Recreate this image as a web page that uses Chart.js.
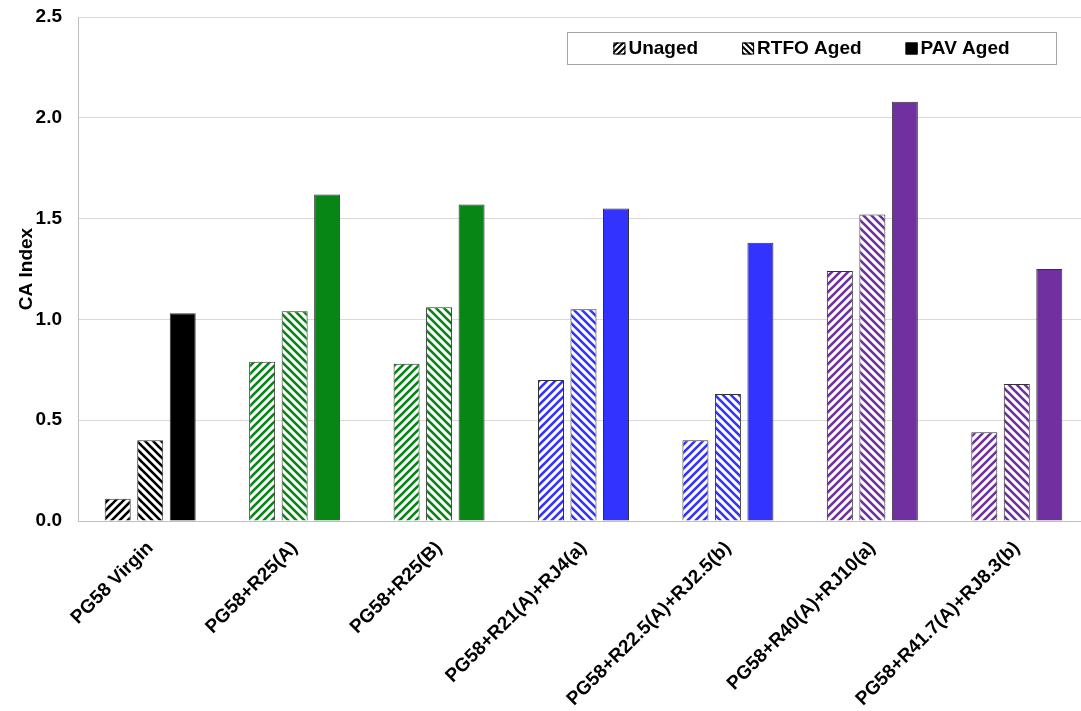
<!DOCTYPE html>
<html>
<head>
<meta charset="utf-8">
<script src="https://cdn.jsdelivr.net/npm/chart.js@4/dist/chart.umd.min.js"></script>
<style>
  html, body { margin: 0; padding: 0; background: #fff; overflow: hidden; }
  #wrap { width: 1089px; height: 711px; }
</style>
</head>
<body>
<div id="wrap"><canvas id="chart" width="1089" height="711"></canvas></div>
<script>
// data
const categories = [
  "PG58 Virgin",
  "PG58+R25(A)",
  "PG58+R25(B)",
  "PG58+R21(A)+RJ4(a)",
  "PG58+R22.5(A)+RJ2.5(b)",
  "PG58+R40(A)+RJ10(a)",
  "PG58+R41.7(A)+RJ8.3(b)"
];
const seriesNames = ["Unaged", "RTFO Aged", "PAV Aged"];
const unaged = [0.11, 0.79, 0.78, 0.70, 0.40, 1.24, 0.44];
const rtfoAged = [0.40, 1.04, 1.06, 1.05, 0.63, 1.52, 0.68];
const pavAged = [1.03, 1.62, 1.57, 1.55, 1.38, 2.08, 1.25];
const yTicks = [0, 0.5, 1.0, 1.5, 2.0, 2.5];

// colour of each group of bars
const groupColors = ["#000000", "#078515", "#078515", "#3333ff", "#3333ff", "#7030a0", "#7030a0"];
const FONT = "'Liberation Sans', Arial, sans-serif";
const FSIZE = 19;

// diagonal stripes, "/" or "\"
function hatch(color, dir, size) {
  const s = size || 8;
  const c = document.createElement("canvas");
  c.width = c.height = s;
  const g = c.getContext("2d");
  g.fillStyle = "#fff";
  g.fillRect(0, 0, s, s);
  g.strokeStyle = color;
  g.lineWidth = s * 0.33;
  g.beginPath();
  if (dir === "/") {
    g.moveTo(0, s); g.lineTo(s, 0);
    g.moveTo(-1, 1); g.lineTo(1, -1);
    g.moveTo(s - 1, s + 1); g.lineTo(s + 1, s - 1);
  } else {
    g.moveTo(0, 0); g.lineTo(s, s);
    g.moveTo(-1, s - 1); g.lineTo(1, s + 1);
    g.moveTo(s - 1, -1); g.lineTo(s + 1, 1);
  }
  g.stroke();
  return g.createPattern(c, "repeat");
}

const swatchStyles = [hatch("#000", "/", 6), hatch("#000", "\\", 6), "#000"];

// legend in a box at top right of the plot
const legendBox = {
  id: "legendBox",
  afterDraw(chart) {
    const ctx = chart.ctx;
    const area = chart.chartArea;
    const boxRight = area.right - 33, boxTop = area.top + 15, boxH = 32, boxW = 489;
    const boxLeft = boxRight - boxW;
    ctx.save();
    ctx.fillStyle = "#fff";
    ctx.fillRect(boxLeft, boxTop, boxW, boxH);
    ctx.strokeStyle = "#a6a6a6";
    ctx.lineWidth = 1;
    ctx.strokeRect(boxLeft + 0.5, boxTop + 0.5, boxW, boxH);
    ctx.font = "bold " + FSIZE + "px " + FONT;
    ctx.textBaseline = "middle";
    const sw = 12, gapText = 3, gapItem = 44;
    const widths = chart.data.datasets.map(d => sw + gapText + ctx.measureText(d.label).width);
    const total = widths.reduce((a, b) => a + b, 0) + gapItem * (widths.length - 1);
    let x = boxLeft + (boxW - total) / 2;
    const cy = boxTop + boxH / 2 + 0.5;
    chart.data.datasets.forEach((d, i) => {
      ctx.fillStyle = swatchStyles[i];
      ctx.fillRect(x, cy - sw / 2, sw, sw);
      ctx.strokeStyle = "#000";
      ctx.strokeRect(x + 0.5, cy - sw / 2 + 0.5, sw - 1, sw - 1);
      ctx.fillStyle = "#000";
      ctx.fillText(d.label, x + sw + gapText, cy);
      x += widths[i] + gapItem;
    });
    ctx.restore();
  }
};

const common = { borderColor: "#333", borderWidth: 1, barPercentage: 0.8, categoryPercentage: 0.675 };

new Chart(document.getElementById("chart"), {
  type: "bar",
  data: {
    labels: categories,
    datasets: [
      Object.assign({ label: seriesNames[0], data: unaged, backgroundColor: groupColors.map(c => hatch(c, "/")) }, common),
      Object.assign({ label: seriesNames[1], data: rtfoAged, backgroundColor: groupColors.map(c => hatch(c, "\\")) }, common),
      Object.assign({ label: seriesNames[2], data: pavAged, backgroundColor: groupColors }, common)
    ]
  },
  options: {
    responsive: false,
    animation: false,
    devicePixelRatio: 1,
    layout: { padding: { top: 17, right: 0, left: 0, bottom: 0 } },
    plugins: { legend: { display: false }, tooltip: { enabled: false } },
    scales: {
      x: {
        grid: { display: false },
        border: { color: "#bfbfbf" },
        ticks: {
          color: "#000",
          font: { family: FONT, size: FSIZE, weight: "bold" },
          minRotation: 45,
          maxRotation: 45,
          autoSkip: false,
          padding: 8
        },
        afterFit(s) { s.height = 190; s.paddingLeft = 0; s.paddingRight = 0; }
      },
      y: {
        min: 0,
        max: 2.5,
        afterBuildTicks(s) { s.ticks = yTicks.map(v => ({ value: v })); },
        grid: { color: "#d9d9d9", drawTicks: false },
        border: { color: "#bfbfbf" },
        ticks: {
          color: "#000",
          font: { family: FONT, size: FSIZE, weight: "bold" },
          padding: 16,
          callback: v => v.toFixed(1)
        },
        title: {
          display: true,
          text: "CA Index",
          color: "#000",
          font: { family: FONT, size: FSIZE, weight: "bold" },
          padding: { top: 15, bottom: 0 }
        },
        afterFit(s) { s.width = 78; s.paddingTop = 0; s.paddingBottom = 0; }
      }
    }
  },
  plugins: [legendBox]
});
</script>
</body>
</html>
